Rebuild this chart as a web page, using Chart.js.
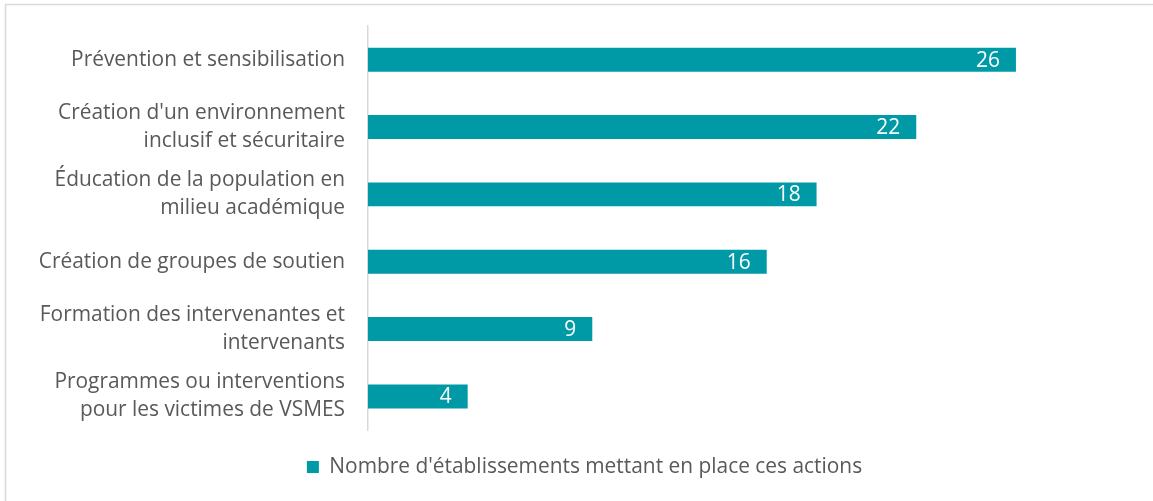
<!DOCTYPE html>
<html>
<head>
<meta charset="utf-8">
<script src="https://cdn.jsdelivr.net/npm/chart.js@4/dist/chart.umd.min.js"></script>
<style>
html,body{margin:0;padding:0;background:#fff;}
#wrap{width:1153px;height:501px;position:relative;}
</style>
</head>
<body>
<div id="wrap"><canvas id="c" width="1153" height="501"></canvas></div>
<script>
const categories = [
  "Prévention et sensibilisation",
  ["Création d'un environnement", "inclusif et sécuritaire"],
  ["Éducation de la population en", "milieu académique"],
  "Création de groupes de soutien",
  ["Formation des intervenantes et", "intervenants"],
  ["Programmes ou interventions", "pour les victimes de VSMES"]
];
const values = [26, 22, 18, 16, 9, 4];
const seriesName = "Nombre d'établissements mettant en place ces actions";

const FONT = "Open Sans";
const FS = 20.9;
const barColor = "#009AA6";

const frame = {
  id: 'frame',
  beforeDraw(chart) {
    const ctx = chart.ctx;
    ctx.save();
    ctx.strokeStyle = '#d9d9d9';
    ctx.lineWidth = 1.5;
    ctx.strokeRect(5.5, 4.5, 1160, 520);
    ctx.restore();
  }
};

const valueLabels = {
  id: 'valueLabels',
  afterDatasetsDraw(chart) {
    const ctx = chart.ctx;
    const meta = chart.getDatasetMeta(0);
    ctx.save();
    ctx.fillStyle = '#ffffff';
    ctx.font = FS + 'px ' + FONT;
    ctx.textAlign = 'right';
    ctx.textBaseline = 'middle';
    meta.data.forEach((el, i) => {
      ctx.fillText(String(chart.data.datasets[0].data[i]), el.x - 16, el.y + 1);
    });
    ctx.restore();
  }
};

new Chart(document.getElementById('c'), {
  type: 'bar',
  data: {
    labels: categories,
    datasets: [{
      label: seriesName,
      data: values,
      backgroundColor: barColor,
      borderWidth: 0,
      barPercentage: 0.355,
      categoryPercentage: 1
    }]
  },
  options: {
    indexAxis: 'y',
    responsive: false,
    animation: false,
    layout: { padding: { top: 26, right: 0, bottom: 13.5, left: 16 } },
    scales: {
      x: {
        min: 0, max: 31.5,
        grid: { display: false },
        border: { display: false },
        ticks: { display: false },
        afterFit(scale) { scale.height = 18.5; scale.paddingLeft = 0; scale.paddingRight = 0; }
      },
      y: {
        grid: { display: false, drawTicks: false },
        border: { display: true, color: '#d9d9d9', width: 1.5 },
        ticks: { color: '#595959', font: { family: FONT, size: FS, lineHeight: 1.34 }, padding: 23 },
        afterFit(scale) { scale.width = 352; scale.paddingTop = 0; scale.paddingBottom = 0; }
      }
    },
    plugins: {
      legend: {
        position: 'bottom',
        labels: {
          color: '#595959',
          font: { family: FONT, size: FS },
          boxWidth: 12, boxHeight: 12, padding: 8
        }
      },
      tooltip: { enabled: false }
    }
  },
  plugins: [frame, valueLabels]
});
</script>
</body>
</html>
